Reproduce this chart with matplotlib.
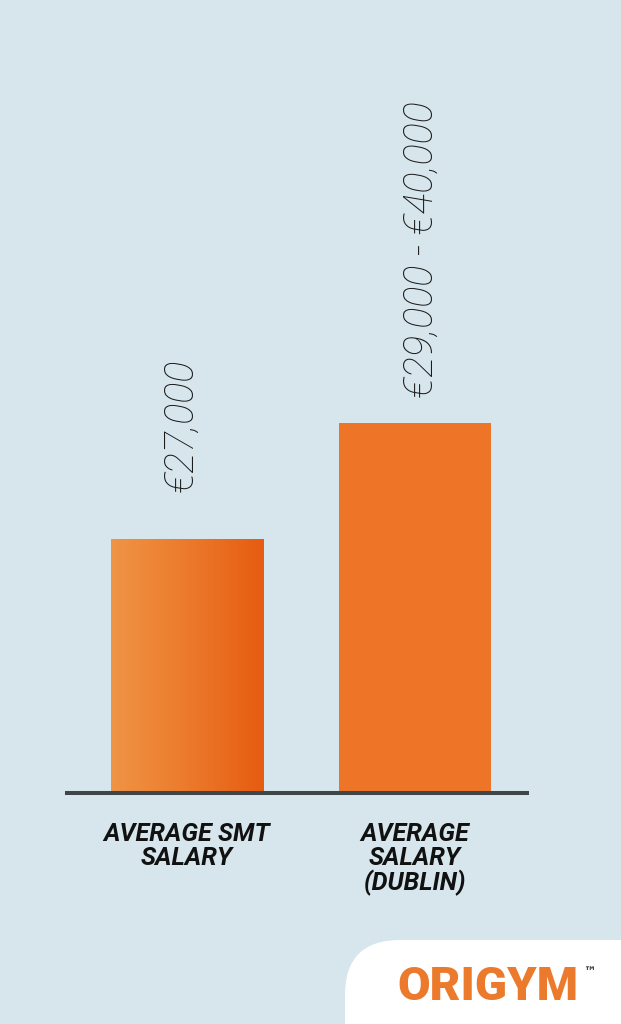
import numpy as np
import matplotlib
matplotlib.use("Agg")
from matplotlib import pyplot as plt
from matplotlib.patches import FancyBboxPatch
from matplotlib.colors import LinearSegmentedColormap

# data
categories = ["AVERAGE SMT\nSALARY", "AVERAGE\nSALARY\n(DUBLIN)"]
salaries = [27000, 39300]
value_labels = ["€27,000", "€29,000 - €40,000"]

bg = "#d6e6ec"
fig = plt.figure(figsize=(6.21, 10.24), dpi=100, facecolor=bg)

W, H = 621, 1024
# axes placed in pixels: left 67, right 527, baseline at 793, top at 100
ax = fig.add_axes([67 / W, (H - 793) / H, 460 / W, 693 / H])
ax.set_facecolor("none")

xpos = np.arange(len(categories))
bars = ax.bar(xpos, salaries, width=0.667, color=["#ee7528", "#ee7528"], zorder=2)

# first bar gets a left-to-right gradient
grad = LinearSegmentedColormap.from_list("g", ["#f09445", "#ec7a2c", "#e65c10"])
b0 = bars[0]
x0, w0, h0 = b0.get_x(), b0.get_width(), b0.get_height()
img = ax.imshow(np.linspace(0, 1, 256).reshape(1, -1), cmap=grad, aspect="auto",
                extent=[x0, x0 + w0, 0, h0], zorder=3)
img.set_clip_path(b0)
ax.set_xlim(-0.526, 1.491)
ax.set_ylim(0, 73650)

for s in ["top", "right", "left"]:
    ax.spines[s].set_visible(False)
ax.spines["bottom"].set_color("#3f4549")
ax.spines["bottom"].set_linewidth(2.9)
ax.spines["bottom"].set_zorder(5)
ax.set_yticks([])
ax.set_xticks(xpos)
ax.set_xticklabels(categories, family="Roboto", weight="bold", style="italic",
                   fontsize=18.2, linespacing=0.98, color="#111111", va="top")
ax.tick_params(axis="x", length=0, pad=21)

offsets = [(-4, 34), (5, 18)]
for b, lab, off in zip(bars, value_labels, offsets):
    ax.annotate(lab, (b.get_x() + b.get_width() / 2, b.get_height()),
                xytext=off, textcoords="offset points", rotation=90,
                ha="center", va="bottom", family="Roboto", weight="light",
                style="italic", fontsize=28.5, color="#1a1a1a")

# logo panel bottom right
ov = fig.add_axes([0, 0, 1, 1], zorder=10)
ov.set_xlim(0, W)
ov.set_ylim(H, 0)
ov.axis("off")
ov.patch.set_visible(False)
ov.add_patch(FancyBboxPatch((345, 940), 400, 200, boxstyle="round,pad=0,rounding_size=55",
                            facecolor="white", edgecolor="none"))
ov.text(397, 987, "ORIGYM", family="Roboto", weight="black", fontsize=34,
        color="#ec7a2c", ha="left", va="center")
ov.text(583, 972, "™", family="DejaVu Sans", weight="bold", fontsize=9,
        color="#333333", ha="left", va="center")

fig.savefig("out.png", dpi=100, facecolor=bg)
